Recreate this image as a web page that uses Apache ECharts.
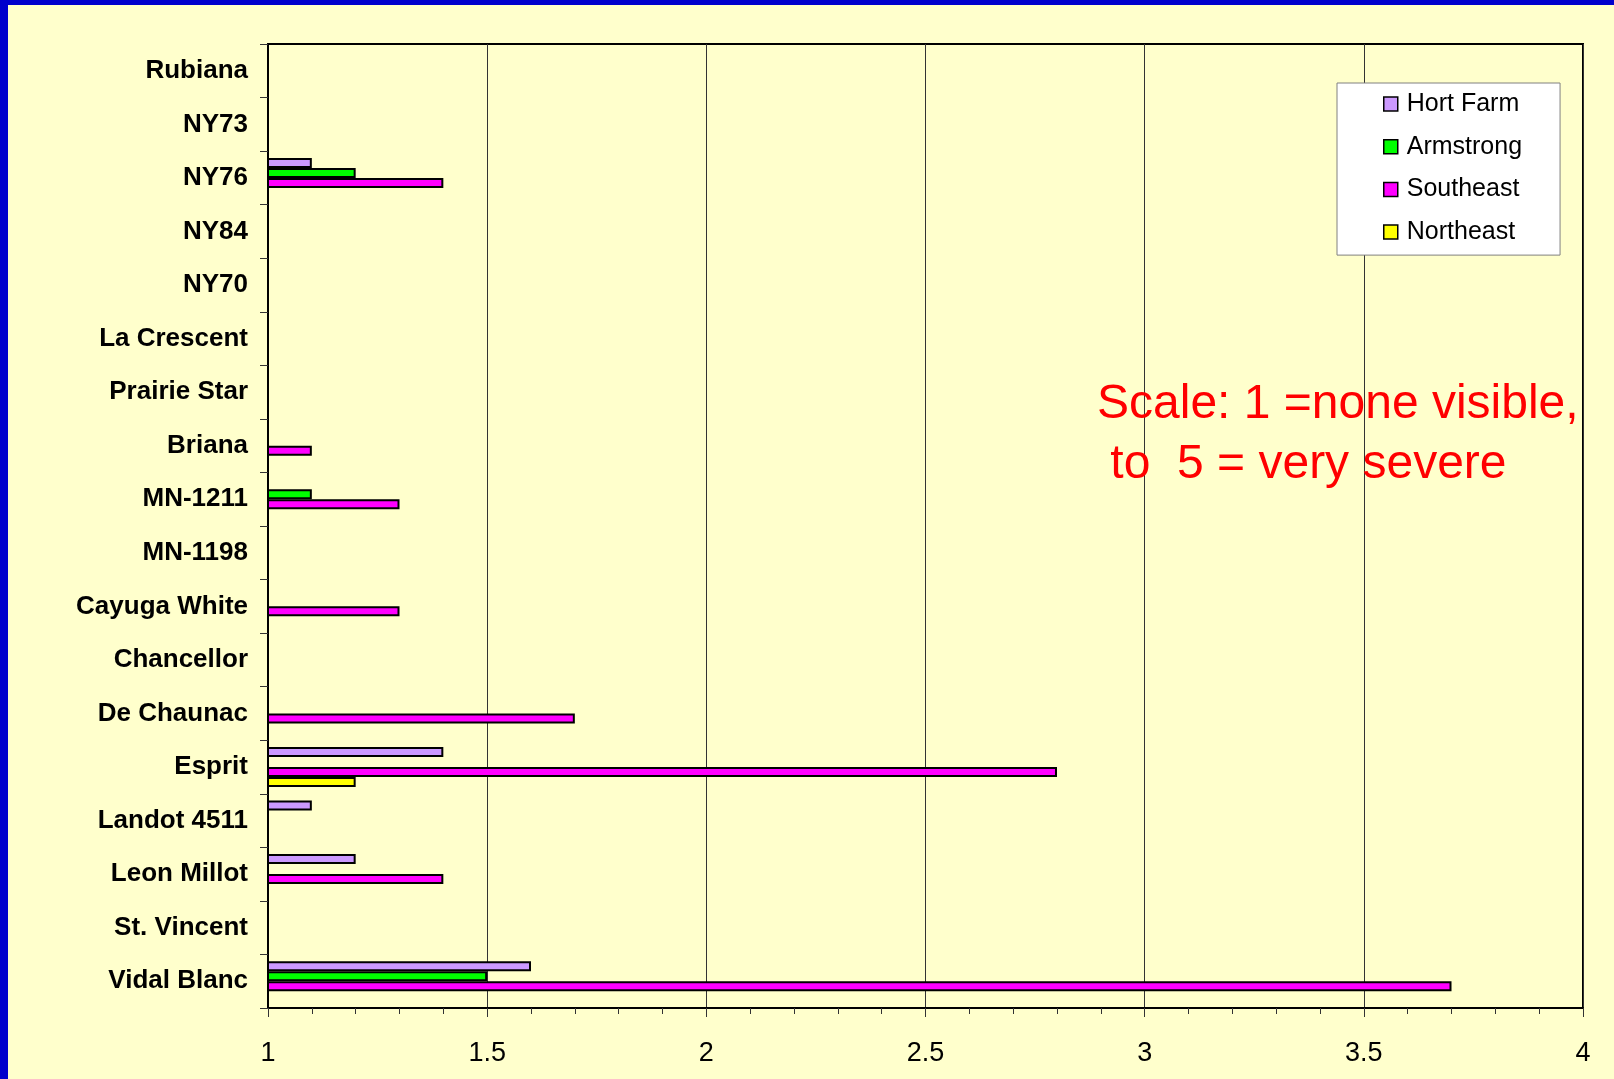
<!DOCTYPE html>
<html>
<head>
<meta charset="utf-8">
<script src="https://cdn.jsdelivr.net/npm/echarts@6/dist/echarts.min.js"></script>
<style>
html,body{margin:0;padding:0;background:#FFFFCC;}
#chart{width:1614px;height:1079px;}
</style>
</head>
<body>
<div id="chart"></div>
<script>
// Categories listed top to bottom as in the picture
const categories = ['Rubiana','NY73','NY76','NY84','NY70','La Crescent','Prairie Star','Briana','MN-1211','MN-1198','Cayuga White','Chancellor','De Chaunac','Esprit','Landot 4511','Leon Millot','St. Vincent','Vidal Blanc'];
const hortFarm  = [null,null,1.1,null,null,null,null,null,null,null,null,null,null,1.4,1.1,1.2,null,1.6];
const armstrong = [null,null,1.2,null,null,null,null,null,1.1,null,null,null,null,null,null,null,null,1.5];
const southeast = [null,null,1.4,null,null,null,null,1.1,1.3,null,1.3,null,1.7,2.8,null,1.4,null,3.7];
const northeast = [null,null,null,null,null,null,null,null,null,null,null,null,null,1.2,null,null,null,null];
const seriesNames = ['Hort Farm','Armstrong','Southeast','Northeast'];
const seriesColors = ['#CC99FF','#00FF00','#FF00FF','#FFFF00'];
const seriesData = [hortFarm, armstrong, southeast, northeast];
const xTickLabels = {1:'1',1.5:'1.5',2:'2',2.5:'2.5',3:'3',3.5:'3.5',4:'4'};
const noteText = 'Scale: 1 =none visible,\n to  5 = very severe';

const chart = echarts.init(document.getElementById('chart'));
chart.setOption({
  backgroundColor: '#FFFFCC',
  animation: false,
  grid: {left: 268, top: 44, right: 31, bottom: 71, show: true, borderColor: '#000', borderWidth: 2, backgroundColor: 'transparent'},
  legend: {
    orient: 'vertical', left: 1337, top: 83,
    backgroundColor: '#FFFFFF', borderColor: '#808080', borderWidth: 1,
    padding: [6, 38, 8, 46],
    itemWidth: 14, itemHeight: 14, itemGap: 12.7,
    icon: 'rect',
    itemStyle: {borderColor: '#000', borderWidth: 1.5},
    textStyle: {fontFamily: 'Liberation Sans, Arial', fontSize: 25, color: '#000', lineHeight: 30, padding: [0,0,0,4]},
    data: seriesNames
  },
  xAxis: {
    type: 'value', min: 1, max: 4, interval: 0.5,
    axisLine: {show: true, lineStyle: {color: '#000', width: 2}},
    axisTick: {show: true, length: 9, lineStyle: {color: '#333', width: 1}},
    minorTick: {show: true, splitNumber: 5, length: 6, lineStyle: {color: '#333', width: 1}},
    splitLine: {show: true, lineStyle: {color: '#333', width: 1}},
    axisLabel: {fontFamily: 'Liberation Sans, Arial', fontSize: 27, color: '#000', margin: 32,
      formatter: v => xTickLabels[v] !== undefined ? xTickLabels[v] : ''}
  },
  yAxis: {
    type: 'category', data: categories, inverse: true,
    axisLine: {show: true, lineStyle: {color: '#000', width: 2}},
    axisTick: {show: true, length: 8, lineStyle: {color: '#333', width: 1}},
    splitLine: {show: false},
    axisLabel: {fontFamily: 'Liberation Sans, Arial', fontWeight: 'bold', fontSize: 26, color: '#000', margin: 20}
  },
  series: seriesNames.map((name, i) => ({
    name: name, type: 'bar', data: seriesData[i],
    barWidth: 10, barGap: '0%',
    itemStyle: {color: seriesColors[i], borderColor: '#000', borderWidth: 2},
    emphasis: {disabled: true}
  })),
  graphic: [
    {type: 'rect', shape: {x: 0, y: 0, width: 8, height: 1079}, style: {fill: '#0000CC'}, z: 100},
    {type: 'rect', shape: {x: 0, y: 0, width: 1614, height: 5}, style: {fill: '#0000CC'}, z: 100},
    {type: 'text', left: 1097, top: 375, z: 100,
      style: {text: noteText, fill: '#FF0000', font: '48px "Liberation Sans", Arial', lineHeight: 60}}
  ]
});
</script>
</body>
</html>
